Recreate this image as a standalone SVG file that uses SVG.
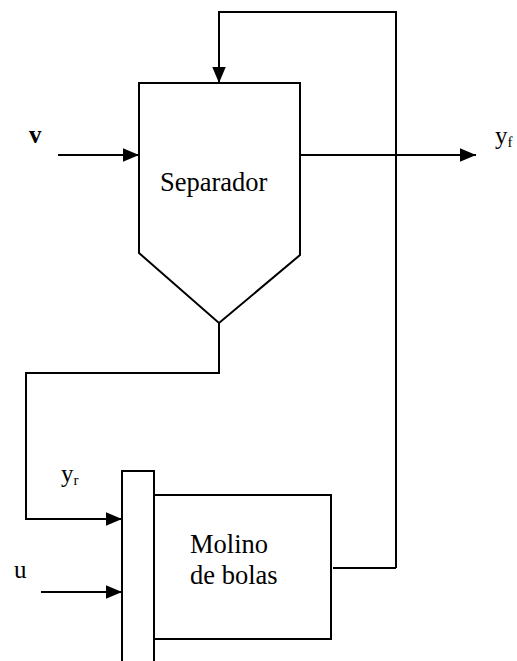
<svg xmlns="http://www.w3.org/2000/svg" width="517" height="661" viewBox="0 0 517 661">
<defs>
<marker id="ahb" viewBox="0 0 10 10" refX="10" refY="5" markerWidth="16" markerHeight="16" markerUnits="userSpaceOnUse" orient="auto">
<path d="M0,0.8 L10,5 L0,9.2 z" fill="#000"/>
</marker>
</defs>
<rect width="517" height="661" fill="#fff"/>
<g id="connectors" fill="none" stroke="#000" stroke-width="2">
<path d="M396,568 L396,12 L219,12 L219,83" marker-end="url(#ahb)"/>
<path d="M333,568 L396,568"/>
<path d="M58,155 L139,155" marker-end="url(#ahb)"/>
<path d="M300,155 L476,155" marker-end="url(#ahb)"/>
<path d="M219,323 L219,373 L26,373 L26,519 L122,519" marker-end="url(#ahb)"/>
<path d="M41,592 L122,592" marker-end="url(#ahb)"/>
</g>
<g id="separador">
<path d="M139,83 L300,83 L300,255 L219,323 L139,253 Z" fill="#fff" stroke="#000" stroke-width="2"/>
<text x="160" y="191" font-family="'Liberation Serif', 'Times New Roman', serif" font-size="26.5" fill="#000">Separador</text>
</g>
<g id="molino">
<rect x="154" y="495" width="177" height="144" fill="#fff" stroke="#000" stroke-width="2"/>
<text x="190" y="553" font-family="'Liberation Serif', 'Times New Roman', serif" font-size="26.5" fill="#000">Molino</text>
<text x="190" y="584" font-family="'Liberation Serif', 'Times New Roman', serif" font-size="26.5" fill="#000">de bolas</text>
</g>
<g id="barra">
<rect x="122" y="471" width="32" height="200" fill="#fff" stroke="#000" stroke-width="2"/>
</g>
<g id="labels" font-family="'Liberation Serif', 'Times New Roman', serif" font-size="25" fill="#000">
<text x="29" y="143" font-weight="bold">v</text>
<text x="495" y="144">y<tspan font-size="15" dy="3">f</tspan></text>
<text x="61" y="482">y<tspan font-size="15" dy="3">r</tspan></text>
<text x="14" y="578">u</text>
</g>
</svg>
